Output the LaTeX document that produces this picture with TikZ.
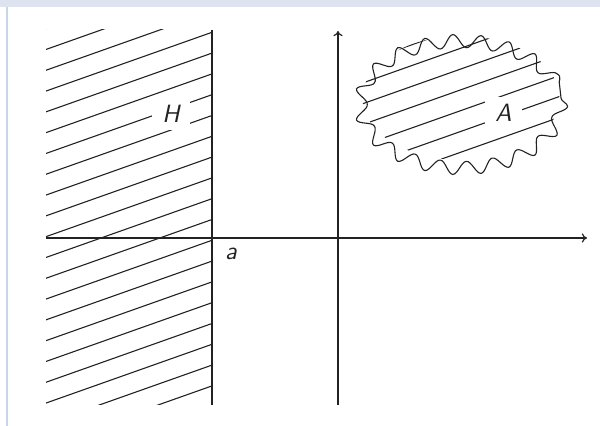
\documentclass[tikz,border=0pt]{standalone}
\usetikzlibrary{decorations.pathmorphing,arrows.meta}
\definecolor{ink}{HTML}{222222}
\definecolor{bandtop}{HTML}{DDE4F0}
\definecolor{bandleft}{HTML}{C9D5EA}
\tikzset{
  hatch/.style={draw=ink, line width=0.55pt},
  edge/.style={draw=ink, line width=0.6pt},
  axis/.style={draw=ink, line width=0.6pt, -{To[length=2.6pt,width=4.6pt]}},
  blob/.style={draw=ink, line width=0.55pt, decorate,
    decoration={snake, segment length=13.6pt, amplitude=3.3pt}},
  lab/.style={fill=white, inner xsep=5pt, inner ysep=3.5pt, text=ink,
    font=\sffamily\itshape\fontsize{12.5}{14}\selectfont},
  plainlab/.style={inner sep=1pt, text=ink,
    font=\sffamily\itshape\fontsize{12.5}{14}\selectfont}
}
\begin{document}
\begin{tikzpicture}[x=0.5pt,y=-0.5pt]
\useasboundingbox (0,0) rectangle (600,426);
% page bands
\fill[bandtop] (0,0) rectangle (600,7);
\fill[bandleft] (6,7) rectangle (8,426);
% hatch of H
\begin{scope}
  \clip (46,30) rectangle (212,405);
  \foreach \k in {-4,...,19} {
    \draw[hatch] (40,{32.3+20.8*\k+0.354*172}) -- (220,{32.3+20.8*\k-0.354*8});
  }
\end{scope}
% boundary of H
\coordinate (bt) at (212,30.5);
\coordinate (bb) at (212,405);
\draw[edge] (bt) -- (bb);
% axes
\coordinate (xs) at (46,238);
\coordinate (xe) at (587,238);
\coordinate (ys) at (338,405);
\coordinate (ye) at (338,31);
\draw[axis] (xs) -- (xe);
\draw[axis] (ys) -- (ye);
% hatch of A
\coordinate (ac) at (461,98);
\begin{scope}
  \clip (ac) ellipse [x radius=98.5, y radius=62];
  \foreach \k in {2,...,13} {
    \draw[hatch] (350,{32.3+20.8*\k+0.354*(212-350)}) -- (575,{32.3+20.8*\k-0.354*(575-212)});
  }
\end{scope}
\draw[blob] (ac) ellipse [x radius=100, y radius=63.5];
% labels
\node[lab] (H) at (171,114) {H};
\node[lab] (A) at (503.5,113) {A};
\node[plainlab] (a) at (231,254) {a};
\end{tikzpicture}
\end{document}
